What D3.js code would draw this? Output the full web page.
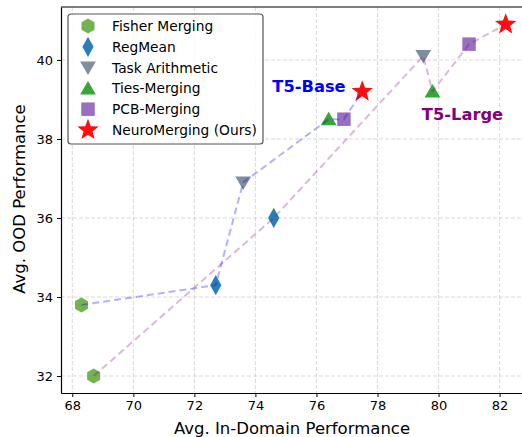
<!DOCTYPE html>
<html>
<head>
<meta charset="utf-8">
<script src="https://cdn.jsdelivr.net/npm/d3@7"></script>
<style>
  body { margin: 0; background: #fff; }
  svg { display: block; font-family: "DejaVu Sans", sans-serif; }
</style>
</head>
<body>
<svg id="chart"></svg>
<script>
// methods, in plotting order
const methods = ["Fisher Merging", "RegMean", "Task Arithmetic", "Ties-Merging", "PCB-Merging", "NeuroMerging (Ours)"];
const shapes = ["hexagon", "thinDiamond", "triDown", "triUp", "square", "star"];
const colors = ["#6aae46", "#1f77b4", "#778899", "#2ca02c", "#9467bd", "#ff0000"];

// T5-Base (in-domain, ood)
const baseX = [68.3, 72.7, 73.6, 76.4, 76.9, 77.5];
const baseY = [33.8, 34.3, 36.9, 38.5, 38.5, 39.2];
// T5-Large
const largeX = [68.7, 74.6, 79.5, 79.8, 81.0, 82.2];
const largeY = [32.0, 36.0, 40.1, 39.2, 40.4, 40.9];

const xTicks = [68, 70, 72, 74, 76, 78, 80, 82];
const yTicks = [32, 34, 36, 38, 40];

const width = 522, height = 437;
const margin = {top: 7, right: -2, bottom: 44, left: 61};

const svg = d3.select("#chart").attr("width", width).attr("height", height);

const x = d3.scaleLinear().domain([67.63, 82.8]).range([margin.left, width - margin.right]);
const y = d3.scaleLinear().domain([31.57, 41.34]).range([height - margin.bottom, margin.top]);

// grid
svg.append("g").selectAll("line").data(xTicks).join("line")
  .attr("x1", d => x(d)).attr("x2", d => x(d))
  .attr("y1", margin.top).attr("y2", height - margin.bottom)
  .attr("stroke", "#b0b0b0").attr("stroke-opacity", 0.6)
  .attr("stroke-dasharray", "4,2").attr("stroke-width", 0.8);
svg.append("g").selectAll("line").data(yTicks).join("line")
  .attr("y1", d => y(d)).attr("y2", d => y(d))
  .attr("x1", margin.left).attr("x2", width - margin.right)
  .attr("stroke", "#b0b0b0").attr("stroke-opacity", 0.6)
  .attr("stroke-dasharray", "4,2").attr("stroke-width", 0.8);

// marker paths
const symbolPath = (shape, s) => {
  let pts;
  if (shape === "hexagon") {
    pts = d3.range(6).map(i => { const a = Math.PI / 6 + i * Math.PI / 3; return [s * Math.cos(a), s * Math.sin(a)]; });
  } else if (shape === "thinDiamond") {
    pts = [[0, -s * 1.35], [s * 0.75, 0], [0, s * 1.35], [-s * 0.75, 0]];
  } else if (shape === "triDown") {
    pts = [[-s * 1.05, -s * 0.8], [s * 1.05, -s * 0.8], [0, s * 1.0]];
  } else if (shape === "triUp") {
    pts = [[-s * 1.05, s * 0.8], [s * 1.05, s * 0.8], [0, -s * 1.0]];
  } else if (shape === "square") {
    pts = [[-s * 0.9, -s * 0.9], [s * 0.9, -s * 0.9], [s * 0.9, s * 0.9], [-s * 0.9, s * 0.9]];
  } else {
    const r = s * 1.5;
    pts = d3.range(10).map(i => { const a = -Math.PI / 2 + i * Math.PI / 5; const rr = i % 2 ? r * 0.42 : r; return [rr * Math.cos(a), rr * Math.sin(a)]; });
  }
  return "M" + pts.map(p => p.join(",")).join("L") + "Z";
};

const drawMarkers = (xs, ys) => {
  svg.append("g").selectAll("path").data(methods).join("path")
    .attr("d", (d, i) => symbolPath(shapes[i], 7.5))
    .attr("transform", (d, i) => `translate(${x(xs[i])},${y(ys[i])})`)
    .attr("fill", (d, i) => colors[i])
    .attr("fill-opacity", 0.95);
};
drawMarkers(baseX, baseY);
drawMarkers(largeX, largeY);

// connecting lines (drawn over markers)
const line = d3.line().x(d => x(d[0])).y(d => y(d[1]));
svg.append("path").datum(baseX.map((v, i) => [v, baseY[i]]))
  .attr("d", line).attr("fill", "none")
  .attr("stroke", "#0000ff").attr("stroke-opacity", 0.3)
  .attr("stroke-width", 2).attr("stroke-dasharray", "7,4");
svg.append("path").datum(largeX.map((v, i) => [v, largeY[i]]))
  .attr("d", line).attr("fill", "none")
  .attr("stroke", "#800080").attr("stroke-opacity", 0.28)
  .attr("stroke-width", 2).attr("stroke-dasharray", "7,4");

// annotations
svg.append("text").attr("x", 309).attr("y", 92).attr("text-anchor", "middle")
  .attr("font-size", 16.3).attr("font-weight", "bold").attr("fill", "#0000ff").text("T5-Base");
svg.append("text").attr("x", 462.5).attr("y", 120).attr("text-anchor", "middle")
  .attr("font-size", 16.3).attr("font-weight", "bold").attr("fill", "#800080").text("T5-Large");

// axes
const xAxis = svg.append("g").attr("transform", `translate(0,${height - margin.bottom})`)
  .call(d3.axisBottom(x).tickValues(xTicks).tickSize(4).tickPadding(4).tickSizeOuter(0));
const yAxis = svg.append("g").attr("transform", `translate(${margin.left},0)`)
  .call(d3.axisLeft(y).tickValues(yTicks).tickSize(4).tickPadding(4).tickSizeOuter(0));
[xAxis, yAxis].forEach(g => {
  g.selectAll("text").attr("font-size", 13).attr("fill", "#000").attr("font-family", "DejaVu Sans");
  g.select(".domain").attr("stroke", "#000").attr("stroke-width", 1.2);
  g.selectAll(".tick line").attr("stroke", "#000");
});
// top spine
svg.append("line").attr("x1", margin.left).attr("x2", width)
  .attr("y1", margin.top).attr("y2", margin.top).attr("stroke", "#000").attr("stroke-width", 1.2);

svg.append("text").attr("x", 292).attr("y", 434).attr("text-anchor", "middle")
  .attr("font-size", 16.5).text("Avg. In-Domain Performance");
svg.append("text").attr("transform", "translate(24.5,199) rotate(-90)").attr("text-anchor", "middle")
  .attr("font-size", 16.5).text("Avg. OOD Performance");

// legend
const lg = svg.append("g");
lg.append("rect").attr("x", 68).attr("y", 14).attr("width", 195).attr("height", 130)
  .attr("rx", 3).attr("fill", "#fff").attr("fill-opacity", 0.85)
  .attr("stroke", "#555").attr("stroke-width", 1.2);
methods.forEach((m, i) => {
  const yy = 26 + i * 20.8;
  lg.append("path").attr("d", symbolPath(shapes[i], 7.5))
    .attr("transform", `translate(88,${yy})`).attr("fill", colors[i]).attr("fill-opacity", 0.95);
  lg.append("text").attr("x", 112).attr("y", yy + 5).attr("font-size", 13.8).text(m);
});
</script>
</body>
</html>
